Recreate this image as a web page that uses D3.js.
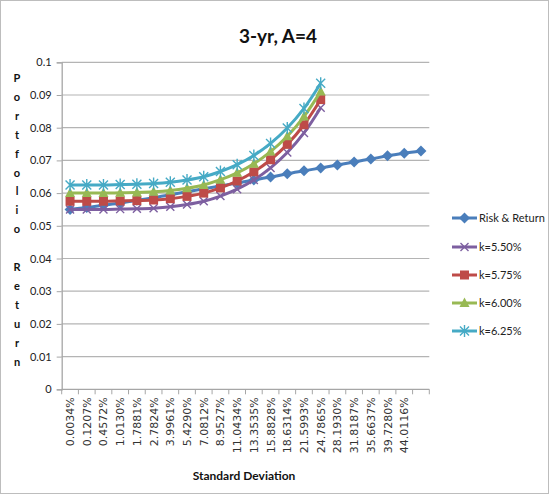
<!DOCTYPE html>
<html>
<head>
<meta charset="utf-8">
<script src="https://cdn.jsdelivr.net/npm/d3@7"></script>
<style>
  html, body { margin: 0; padding: 0; background: #fff; }
  svg { display: block; }
</style>
</head>
<body>
<svg id="chart" width="550" height="495"></svg>
<script>
// Standard deviation categories (the last slot has no printed label)
const stdLabels = ["0.0034%", "0.1207%", "0.4572%", "1.0130%", "1.7881%", "2.7824%",
  "3.9961%", "5.4290%", "7.0812%", "8.9527%", "11.0434%", "13.3535%", "15.8828%",
  "18.6314%", "21.5993%", "24.7865%", "28.1930%", "31.8187%", "35.6637%",
  "39.7280%", "44.0116%", ""];

// Portfolio return of the risk/return opportunity set
const riskReturn = [0.0550, 0.0556, 0.0563, 0.0570, 0.0578, 0.0586, 0.0595, 0.0604,
  0.0613, 0.0622, 0.0631, 0.0640, 0.0649, 0.0659, 0.0668, 0.0677, 0.0686, 0.0695,
  0.0704, 0.0714, 0.0722, 0.0729];

// Indifference curves for A=4, one per utility level k
const k550 = [0.0550, 0.0550, 0.0550, 0.0551, 0.0552, 0.0554, 0.0558, 0.0565, 0.0575,
  0.0591, 0.0612, 0.0640, 0.0677, 0.0724, 0.0784, 0.0861];
const k575 = [0.0575, 0.0575, 0.0575, 0.0576, 0.0577, 0.0579, 0.0583, 0.0590, 0.0600,
  0.0616, 0.0637, 0.0665, 0.0702, 0.0749, 0.0809, 0.0886];
const k600 = [0.0600, 0.0600, 0.0600, 0.0601, 0.0602, 0.0604, 0.0608, 0.0615, 0.0625,
  0.0641, 0.0662, 0.0690, 0.0727, 0.0774, 0.0834, 0.0911];
const k625 = [0.0625, 0.0625, 0.0625, 0.0626, 0.0627, 0.0629, 0.0633, 0.0640, 0.0650,
  0.0666, 0.0687, 0.0715, 0.0752, 0.0799, 0.0859, 0.0936];

const yTicks = [0, 0.01, 0.02, 0.03, 0.04, 0.05, 0.06, 0.07, 0.08, 0.09, 0.1];
const yTickLabels = ["0", "0.01", "0.02", "0.03", "0.04", "0.05", "0.06", "0.07", "0.08", "0.09", "0.1"];

const seriesNames = ["Risk & Return", "k=5.50%", "k=5.75%", "k=6.00%", "k=6.25%"];
const seriesValues = [riskReturn, k550, k575, k600, k625];
const seriesColors = ["#4a7ebb", "#7d5fa0", "#be4b48", "#98b954", "#46aac5"];
const seriesMarkers = ["diamond", "cross", "square", "triangle", "star"];

const svg = d3.select("#chart");
const font = "Lato, 'Open Sans', sans-serif";

// outer chart frame
svg.append("rect").attr("x", 0.5).attr("y", 0.5).attr("width", 548).attr("height", 493)
  .attr("fill", "#fff").attr("stroke", "#bdbdbd").attr("stroke-width", 1);

const x = d3.scaleBand().domain(d3.range(stdLabels.length)).range([61.7, 429.3]);
const y = d3.scaleLinear().domain([0, 0.1]).range([389.3, 62.3]);
const cx = i => x(i) + x.bandwidth() / 2;

// horizontal gridlines
svg.append("g").selectAll("line").data(yTicks.slice(1)).join("line")
  .attr("x1", x.range()[0]).attr("x2", x.range()[1])
  .attr("y1", d => y(d)).attr("y2", d => y(d))
  .attr("stroke", "#b4b4b4").attr("stroke-width", 1.2);

// y axis
const yAxis = svg.append("g").attr("transform", `translate(${x.range()[0]},0)`)
  .call(d3.axisLeft(y).tickValues(yTicks).tickSize(5).tickPadding(5)
    .tickFormat((d, i) => yTickLabels[i]));
yAxis.select(".domain").attr("stroke", "#a6a6a6").attr("stroke-width", 1.3);
yAxis.selectAll(".tick line").attr("stroke", "#a6a6a6");
yAxis.selectAll(".tick text").attr("fill", "#222").style("font-family", font).style("font-size", "11px");

// x axis line with tick marks on category boundaries
const xAxis = svg.append("g");
xAxis.append("line").attr("x1", x.range()[0]).attr("x2", x.range()[1])
  .attr("y1", y(0)).attr("y2", y(0)).attr("stroke", "#a6a6a6").attr("stroke-width", 1.3);
xAxis.selectAll("line.tk").data(d3.range(stdLabels.length + 1)).join("line").attr("class", "tk")
  .attr("x1", i => x.range()[0] + i * x.step()).attr("x2", i => x.range()[0] + i * x.step())
  .attr("y1", y(0)).attr("y2", y(0) + 5).attr("stroke", "#a6a6a6");
xAxis.selectAll("text").data(stdLabels).join("text")
  .attr("transform", (d, i) => `translate(${cx(i) + 4},${y(0) + 8}) rotate(-90)`)
  .attr("text-anchor", "end")
  .style("font-family", "'DejaVu Sans', sans-serif").style("font-size", "11px")
  .attr("fill", "#333").text(d => d);

// titles
svg.append("text").attr("x", 278).attr("y", 43).attr("text-anchor", "middle")
  .style("font-family", font).style("font-weight", "bold").style("font-size", "19px")
  .attr("fill", "#111").text("3-yr, A=4");
svg.append("text").attr("x", 244).attr("y", 480).attr("text-anchor", "middle")
  .style("font-family", font).style("font-weight", "bold").style("font-size", "12px")
  .attr("fill", "#111").text("Standard Deviation");
const yTitle = "Portfolio Return".split("");
svg.append("g").selectAll("text").data(yTitle).join("text")
  .attr("x", 17).attr("y", (d, i) => 82 + i * 18.9).attr("text-anchor", "middle")
  .style("font-family", font).style("font-weight", "bold").style("font-size", "11px")
  .attr("fill", "#111").text(d => d);

// marker drawing
function drawMarker(g, type, color, px, py) {
  if (type === "diamond") {
    g.append("path").attr("d", `M${px},${py - 5.5}L${px + 5.5},${py}L${px},${py + 5.5}L${px - 5.5},${py}Z`)
      .attr("fill", color);
  } else if (type === "square") {
    g.append("rect").attr("x", px - 4.5).attr("y", py - 4.5).attr("width", 9).attr("height", 9)
      .attr("fill", color);
  } else if (type === "triangle") {
    g.append("path").attr("d", `M${px},${py - 5.5}L${px + 5},${py + 4}L${px - 5},${py + 4}Z`)
      .attr("fill", color);
  } else if (type === "cross") {
    g.append("path").attr("d", `M${px - 4},${py - 4}L${px + 4},${py + 4}M${px - 4},${py + 4}L${px + 4},${py - 4}`)
      .attr("stroke", color).attr("stroke-width", 1.4).attr("fill", "none");
  } else if (type === "star") {
    g.append("path").attr("d", `M${px - 4.5},${py - 4.5}L${px + 4.5},${py + 4.5}M${px - 4.5},${py + 4.5}L${px + 4.5},${py - 4.5}M${px},${py - 6}L${px},${py + 6}`)
      .attr("stroke", color).attr("stroke-width", 1.4).attr("fill", "none");
  }
}

const line = d3.line().x((d, i) => cx(i)).y(d => y(d)).curve(d3.curveCatmullRom.alpha(0.5));

seriesValues.forEach((vals, s) => {
  const g = svg.append("g");
  g.append("path").attr("d", line(vals)).attr("fill", "none")
    .attr("stroke", seriesColors[s]).attr("stroke-width", 3).attr("stroke-linejoin", "round");
  vals.forEach((v, i) => drawMarker(g, seriesMarkers[s], seriesColors[s], cx(i), y(v)));
});

// legend
const legendY = [218, 247, 275, 303, 331];
seriesNames.forEach((name, s) => {
  const g = svg.append("g");
  g.append("line").attr("x1", 452).attr("x2", 477).attr("y1", legendY[s]).attr("y2", legendY[s])
    .attr("stroke", seriesColors[s]).attr("stroke-width", 3);
  drawMarker(g, seriesMarkers[s], seriesColors[s], 464.5, legendY[s]);
  g.append("text").attr("x", 479).attr("y", legendY[s] + 4)
    .style("font-family", font).style("font-size", "11px").attr("fill", "#222").text(name);
});
</script>
</body>
</html>
